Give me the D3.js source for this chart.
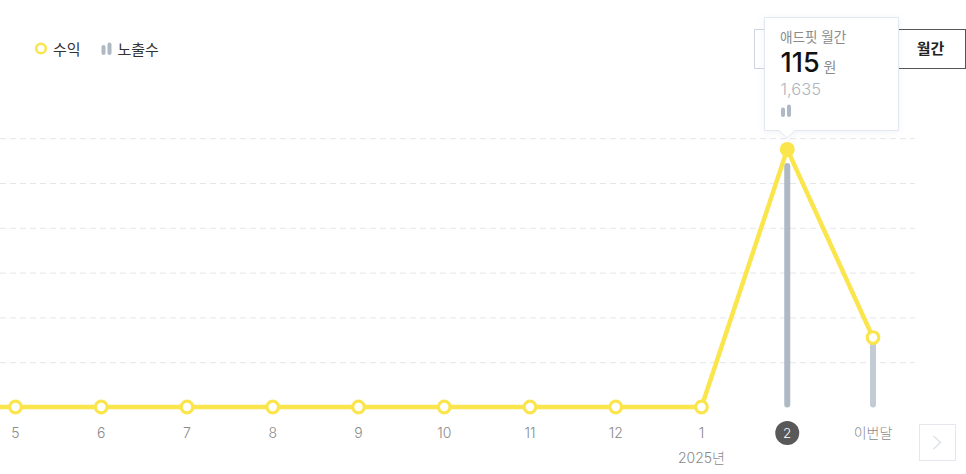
<!DOCTYPE html>
<html><head><meta charset="utf-8">
<script src="https://cdn.jsdelivr.net/npm/d3@7"></script>
<style>
html,body{margin:0;padding:0;background:#fff;overflow:hidden}
svg{display:block}
text{font-family:Inter,"Noto Sans CJK KR","Noto Sans",sans-serif}
</style></head><body>
<svg id="c" width="966" height="474"></svg>
<script>
const categories=["4","5","6","7","8","9","10","11","12","1","2","이번달"];
const revenue=[0,0,0,0,0,0,0,0,0,0,115,31];
const impressions=[0,0,0,0,0,0,0,0,0,0,1635,440];
const gridTicks=[20,40,60,80,100,120];
const legendItems=["수익","노출수"];
const selected="2";
const yearLabel="2025년";
const tooltipTitle="애드핏 월간", tooltipValue="115", tooltipUnit="원", tooltipSub="1,635";
const buttonLabel="월간";

const svg=d3.select("#c");
const x=d3.scalePoint().domain(categories).range([-70.25,873]);
const y=d3.scaleLinear().domain([0,120]).range([407,138.2]);
const yBar=d3.scaleLinear().domain([0,1635]).range([407,163]);
const yellow="#fbe54d", bar="#aeb9c4", barLight="#c3ccd4";
const root=svg.append("g");

// grid
root.selectAll("line.g").data(gridTicks).join("line")
 .attr("x1",0).attr("x2",915).attr("y1",d=>y(d)+.5).attr("y2",d=>y(d)+.5)
 .attr("stroke","#e4e6e9").attr("stroke-width",1).attr("stroke-dasharray","6 4");

// bars
root.selectAll("line.b").data(categories.filter((c,i)=>impressions[i]>0)).join("line")
 .attr("x1",d=>x(d)).attr("x2",d=>x(d))
 .attr("y1",d=>yBar(impressions[categories.indexOf(d)])+3).attr("y2",404.5)
 .attr("stroke",d=>d===selected?bar:barLight).attr("stroke-width",6).attr("stroke-linecap","round");

// line
const line=d3.line().x(d=>x(d)).y((d,i)=>y(revenue[i]));
root.append("path").datum(categories).attr("d",line)
 .attr("fill","none").attr("stroke",yellow).attr("stroke-width",4.5).attr("stroke-linejoin","round");
root.selectAll("circle.p").data(categories).join("circle")
 .attr("cx",d=>x(d)).attr("cy",d=>y(revenue[categories.indexOf(d)]))
 .attr("r",d=>d===selected?7.5:5.8)
 .attr("fill",d=>d===selected?yellow:"#fff")
 .attr("stroke",yellow).attr("stroke-width",d=>d===selected?0:3.2);

// x labels
const labels=categories.filter(c=>c!=="4");
root.append("circle").attr("cx",x(selected)).attr("cy",433).attr("r",12).attr("fill","#595959");
root.selectAll("text.x").data(labels).join("text")
 .attr("x",d=>x(d)).attr("y",438).attr("text-anchor","middle").attr("font-size",d=>d===selected?13.5:14)
 .attr("font-weight",300)
 .attr("fill",d=>d===selected?"#fff":"#8a8a8a").text(d=>d);
root.append("text").attr("x",x("1")).attr("y",463).attr("text-anchor","middle")
 .attr("font-size",14).attr("font-weight",300).attr("fill","#8a8a8a").text(yearLabel);

// legend
root.append("circle").attr("cx",41).attr("cy",48.5).attr("r",4.8).attr("fill","#fff").attr("stroke",yellow).attr("stroke-width",2.6);
root.append("text").attr("x",53).attr("y",54.5).attr("font-size",15).attr("fill","#333").text(legendItems[0]);
root.append("line").attr("x1",103.5).attr("x2",103.5).attr("y1",47).attr("y2",53).attr("stroke",bar).attr("stroke-width",4).attr("stroke-linecap","round");
root.append("line").attr("x1",109.5).attr("x2",109.5).attr("y1",44.5).attr("y2",53).attr("stroke",bar).attr("stroke-width",4).attr("stroke-linecap","round");
root.append("text").attr("x",117.5).attr("y",54.5).attr("font-size",15).attr("fill","#333").text(legendItems[1]);

// buttons
root.append("rect").attr("x",754.5).attr("y",29.5).attr("width",80).attr("height",39).attr("fill","#fff").attr("stroke","#cdd5e2");
root.append("rect").attr("x",890.5).attr("y",29.5).attr("width",75).attr("height",39).attr("fill","#fff").attr("stroke","#555");
root.append("text").attr("x",930.5).attr("y",54).attr("text-anchor","middle").attr("font-size",15).attr("font-weight",700).attr("fill","#222").text(buttonLabel);

// next
root.append("rect").attr("x",919.5).attr("y",424.5).attr("width",36).attr("height",36).attr("fill","#fff").attr("stroke","#e4e7ee").attr("stroke-width",1);
root.append("path").attr("d","M933.5 436 L940.5 442.5 L933.5 449").attr("fill","none").attr("stroke","#dfe3ea").attr("stroke-width",1.5);

// tooltip
const defs=svg.append("defs");
const f=defs.append("filter").attr("id","s").attr("x","-20%").attr("y","-20%").attr("width","140%").attr("height","140%");
f.append("feDropShadow").attr("dx",0).attr("dy",1).attr("stdDeviation",3).attr("flood-color","#8090b0").attr("flood-opacity",.12);
const t=root.append("g");
t.append("path").attr("d","M764.5 17.5 H898.5 V130.5 H795 L787 138 L779 130.5 H764.5 Z")
 .attr("fill","#fff").attr("stroke","#e2e7f1").attr("filter","url(#s)");
t.append("text").attr("x",780).attr("y",41.5).attr("font-size",13.6).attr("fill","#8a8a8a").text(tooltipTitle);
t.append("text").attr("x",780.5).attr("y",72).attr("font-size",27).attr("font-weight",500).attr("letter-spacing",.1).attr("fill","#111").text(tooltipValue);
t.append("text").attr("x",823.5).attr("y",71.5).attr("font-size",14).attr("fill","#8a8a8a").text(tooltipUnit);
t.append("text").attr("x",780.5).attr("y",95).attr("font-size",16.5).attr("font-weight",300).attr("fill","#aeb5bf").text(tooltipSub);
t.append("line").attr("x1",783).attr("x2",783).attr("y1",109.5).attr("y2",115).attr("stroke",bar).attr("stroke-width",4).attr("stroke-linecap","round");
t.append("line").attr("x1",789).attr("x2",789).attr("y1",106.5).attr("y2",115).attr("stroke",bar).attr("stroke-width",4).attr("stroke-linecap","round");
</script>
</body></html>
